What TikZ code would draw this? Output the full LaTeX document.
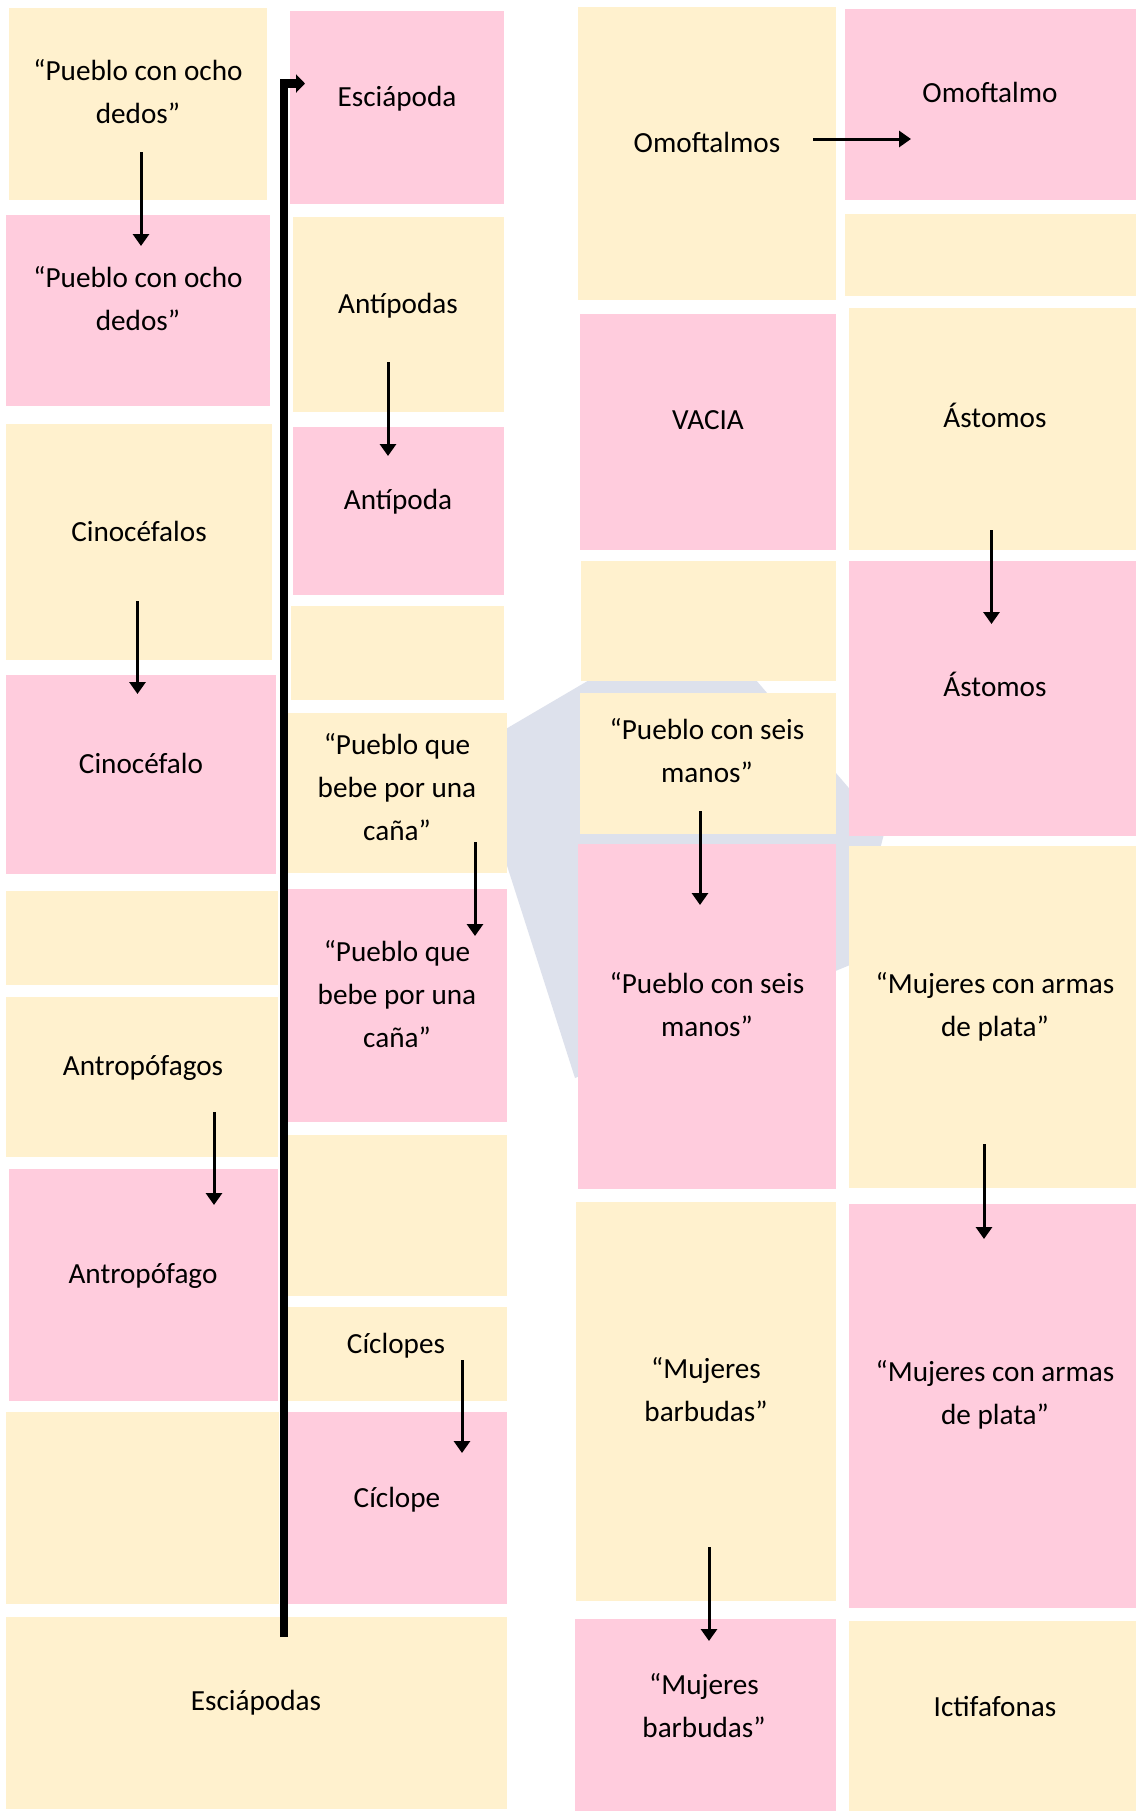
\documentclass[tikz,border=0pt]{standalone}
\usepackage{fontspec}
\setmainfont{Carlito}
\usetikzlibrary{arrows.meta,fit}
\definecolor{ylw}{HTML}{FFF1CE}
\definecolor{pnk}{HTML}{FFCCDD}
\definecolor{wmark}{HTML}{DDE1EC}
\begin{document}
\begin{tikzpicture}[x=0.5pt,y=-0.5pt,
  card/.style={inner sep=0pt, outer sep=0pt, draw=none},
  yc/.style={card, fill=ylw},
  pc/.style={card, fill=pnk},
  txt/.style={align=center, inner sep=0pt, text=black, font=\fontsize{14.6pt}{21.5pt}\selectfont},
  arr/.style={line width=1.5pt, -{Triangle[width=8pt,length=6pt]}},
  bigarr/.style={line width=4.3pt, line join=miter, -{Triangle[width=9pt,length=4.5pt]}}]
\useasboundingbox (0,0) rectangle (1136,1811);
\fill[white] (0,0) rectangle (1136,1811);
% watermark
\fill[wmark] (700,615) -- (885,830) -- (850,965) -- (575,1078) -- (470,750) -- cycle;

% column A
\node[yc, fit={(9,8) (267,200)}] (a1) {};
\node[pc, fit={(6,215) (270,406)}] (a2) {};
\node[yc, fit={(6,424) (272,660)}] (a3) {};
\node[pc, fit={(6,675) (276,874)}] (a4) {};
\node[yc, fit={(6,891) (278,985)}] (a5) {};
\node[yc, fit={(6,997) (278,1157)}] (a6) {};
\node[pc, fit={(9,1169) (278,1401)}] (a7) {};
\node[yc, fit={(6,1412) (279,1604)}] (a8) {};
\node[yc, fit={(6,1617) (507,1809)}] (a9) {};
% column B
\node[pc, fit={(290,11) (504,204)}] (b1) {};
\node[yc, fit={(293,217) (504,412)}] (b2) {};
\node[pc, fit={(293,427) (504,595)}] (b3) {};
\node[yc, fit={(291,606) (504,700)}] (b4) {};
\node[yc, fit={(288,713) (507,873)}] (b5) {};
\node[pc, fit={(288,889) (507,1122)}] (b6) {};
\node[yc, fit={(288,1135) (507,1296)}] (b7) {};
\node[yc, fit={(288,1307) (507,1401)}] (b8) {};
\node[pc, fit={(288,1412) (507,1604)}] (b9) {};
% column C
\node[yc, fit={(578,7) (836,300)}] (c1) {};
\node[pc, fit={(580,314) (836,550)}] (c2) {};
\node[yc, fit={(581,561) (836,681)}] (c3) {};
\node[yc, fit={(580,693) (836,834)}] (c4) {};
\node[pc, fit={(578,844) (836,1189)}] (c5) {};
\node[yc, fit={(576,1202) (836,1601)}] (c6) {};
\node[pc, fit={(575,1619) (836,1811)}] (c7) {};
% column D
\node[pc, fit={(845,9) (1136,200)}] (d1) {};
\node[yc, fit={(845,214) (1136,296)}] (d2) {};
\node[yc, fit={(849,308) (1136,550)}] (d3) {};
\node[pc, fit={(849,561) (1136,836)}] (d4) {};
\node[yc, fit={(849,846) (1136,1188)}] (d5) {};
\node[pc, fit={(849,1204) (1136,1608)}] (d6) {};
\node[yc, fit={(849,1621) (1136,1811)}] (d7) {};

% texts
\node[txt] (ta1) at (138,92) {“Pueblo con ocho\\dedos”};
\node[txt] (ta2) at (138,299) {“Pueblo con ocho\\dedos”};
\node[txt] (ta3) at (139,531.5) {Cinocéfalos};
\node[txt] (ta4) at (141,763.5) {Cinocéfalo};
\node[txt] (ta6) at (143,1067.5) {Antropófagos};
\node[txt] (ta7) at (143,1276) {Antropófago};
\node[txt] (ta9) at (256,1703) {Esciápodas};
\node[txt] (tb1) at (397,98.5) {Esciápoda};
\node[txt] (tb2) at (398,305.5) {Antípodas};
\node[txt] (tb3) at (398,501.5) {Antípoda};
\node[txt] (tb5) at (397,787) {“Pueblo que\\bebe por una\\caña”};
\node[txt] (tb6) at (397,994) {“Pueblo que\\bebe por una\\caña”};
\node[txt] (tb8) at (396,1345.5) {Cíclopes};
\node[txt] (tb9) at (397,1499.5) {Cíclope};
\node[txt] (tc1) at (707,142) {Omoftalmos};
\node[txt] (tc2) at (708,420) {VACIA};
\node[txt] (tc4) at (707,751) {“Pueblo con seis\\manos”};
\node[txt] (tc5) at (707,1005) {“Pueblo con seis\\manos”};
\node[txt] (tc6) at (706,1390) {“Mujeres\\barbudas”};
\node[txt] (tc7) at (704,1706) {“Mujeres\\barbudas”};
\node[txt] (td1) at (990,92) {Omoftalmo};
\node[txt] (td3) at (995,415) {Ástomos};
\node[txt] (td4) at (995,684.5) {Ástomos};
\node[txt] (td5) at (995,1007) {“Mujeres con armas\\de plata”};
\node[txt] (td6) at (995,1395) {“Mujeres con armas\\de plata”};
\node[txt] (td7) at (995,1706) {Ictifafonas};

% arrow end points
\coordinate (p1s) at (141,152);  \coordinate (p1e) at (141,246);
\coordinate (p2s) at (388,362);  \coordinate (p2e) at (388,456);
\coordinate (p3s) at (137.5,601); \coordinate (p3e) at (137.5,694);
\coordinate (p4s) at (214,1112); \coordinate (p4e) at (214,1205);
\coordinate (p5s) at (475,842);  \coordinate (p5e) at (475,936);
\coordinate (p6s) at (462,1360); \coordinate (p6e) at (462,1453);
\coordinate (p7s) at (813,139);  \coordinate (p7e) at (911,139);
\coordinate (p8s) at (991.5,530); \coordinate (p8e) at (991.5,624);
\coordinate (p9s) at (700,811);  \coordinate (p9e) at (700,905);
\coordinate (p10s) at (984,1144); \coordinate (p10e) at (984,1239);
\coordinate (p11s) at (709,1547); \coordinate (p11e) at (709,1641);
\coordinate (qs) at (284,1637);  \coordinate (qc) at (284,83.5); \coordinate (qe) at (305,83.5);

\draw[arr] (p1s) -- (p1e);
\draw[arr] (p2s) -- (p2e);
\draw[arr] (p3s) -- (p3e);
\draw[arr] (p4s) -- (p4e);
\draw[arr] (p5s) -- (p5e);
\draw[arr] (p6s) -- (p6e);
\draw[arr] (p7s) -- (p7e);
\draw[arr] (p8s) -- (p8e);
\draw[arr] (p9s) -- (p9e);
\draw[arr] (p10s) -- (p10e);
\draw[arr] (p11s) -- (p11e);
\draw[bigarr] (qs) -- (qc) -- (qe);
\end{tikzpicture}
\end{document}
